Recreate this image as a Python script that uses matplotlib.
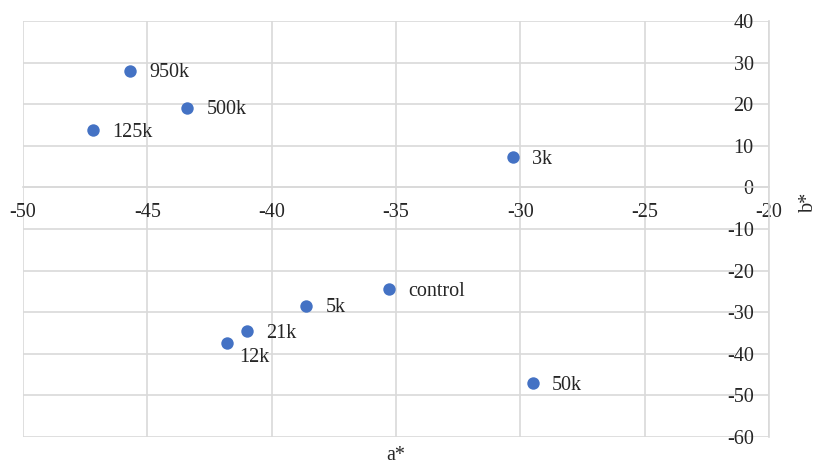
import matplotlib.pyplot as plt

# values
labels = ['950k', '500k', '125k', '3k', 'control', '5k', '21k', '12k', '50k']
a_star = [-45.7, -43.4, -47.2, -30.3, -35.3, -38.6, -41.0, -41.8, -29.5]
b_star = [28.1, 19.2, 13.8, 7.3, -24.5, -28.4, -34.6, -37.5, -47.1]

x_ticks = [-50, -45, -40, -35, -30, -25, -20]
y_ticks = [-60, -50, -40, -30, -20, -10, 0, 10, 20, 30, 40]

plt.rcParams['font.family'] = ['Liberation Serif', 'DejaVu Serif']
plt.rcParams['axes.unicode_minus'] = False

fig = plt.figure(figsize=(8.19, 4.63), dpi=100)
ax = fig.add_axes([23 / 819, 1 - 437 / 463, 746 / 819, 416 / 463])

grid_c = '#d9d9d9'
text_c = '#262626'
ax.scatter(a_star, b_star, s=80, color='#4472c4', zorder=3, linewidths=0)

for lab, x, y in zip(labels, a_star, b_star):
    if lab == '12k':
        off = (9, -10)
    else:
        off = (14, -1.5)
    ax.annotate(lab, (x, y), xytext=off, textcoords='offset points',
                ha='left', va='center', fontsize=14.5, color=text_c)

ax.set_xlim(-50, -20)
ax.set_ylim(-60, 40)
ax.set_xticks(x_ticks)
ax.set_yticks(y_ticks)
ax.grid(True, color=grid_c, linewidth=1.2)
ax.set_axisbelow(True)

for side in ['top', 'right']:
    ax.spines[side].set_visible(False)
ax.spines['left'].set_position(('data', -20))
ax.spines['bottom'].set_position(('data', 0))
for side in ['left', 'bottom']:
    ax.spines[side].set_color(grid_c)
    ax.spines[side].set_linewidth(1.2)

ax.tick_params(axis='both', length=0, labelsize=14.5, labelcolor=text_c)
ax.tick_params(axis='y', pad=11)
ax.tick_params(axis='x', pad=11)

fig.text(396 / 819, 1 - 455 / 463, 'a*', ha='center', va='center', fontsize=14.5, color=text_c)
fig.text(808 / 819, 1 - 202 / 463, 'b*', ha='center', va='center', rotation=90,
         fontsize=14.5, color=text_c)

fig.savefig('out.png', dpi=100)
